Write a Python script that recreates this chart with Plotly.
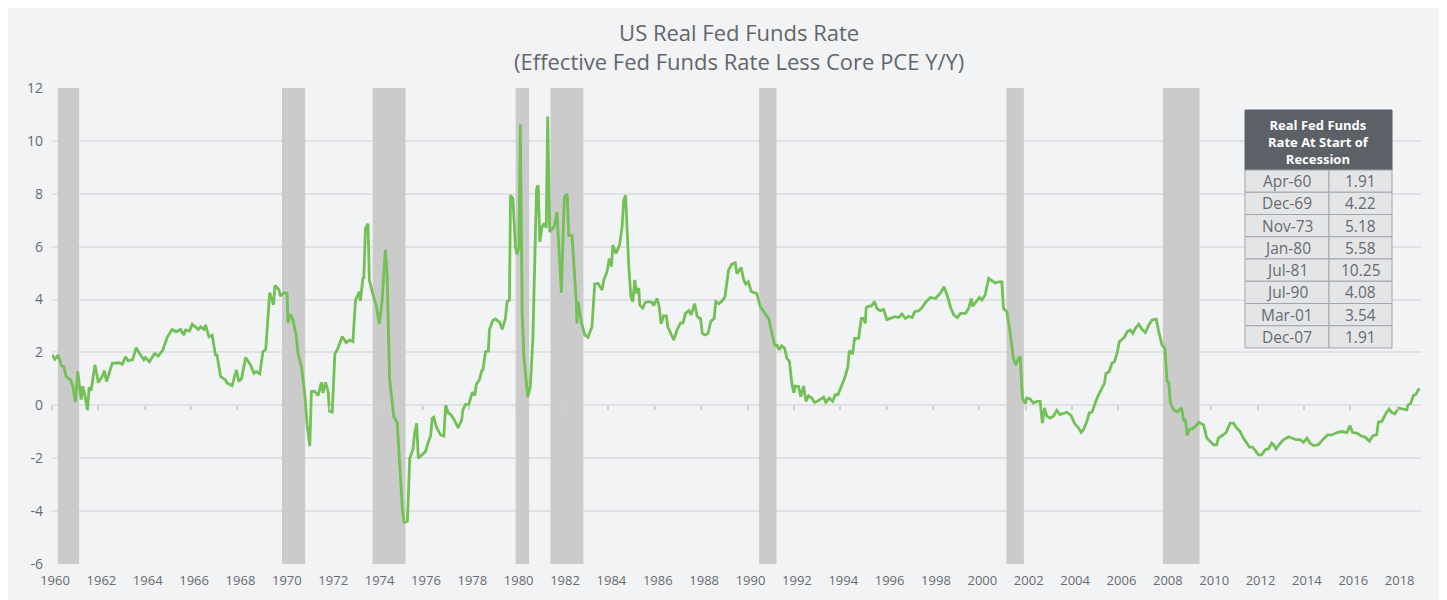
import plotly.graph_objects as go

# ---------------- data ----------------
years = [
    1960.00, 1960.12, 1960.26, 1960.41, 1960.51, 1960.61, 1960.80, 1960.90, 1961.01, 1961.11,
    1961.26, 1961.33, 1961.44, 1961.53, 1961.60, 1961.69, 1961.85, 1962.00, 1962.16, 1962.26,
    1962.35, 1962.60, 1962.88, 1963.03, 1963.17, 1963.28, 1963.48, 1963.63, 1963.82, 1963.96,
    1964.03, 1964.20, 1964.43, 1964.58, 1964.78, 1964.97, 1965.18, 1965.36, 1965.54, 1965.69,
    1965.76, 1965.93, 1966.05, 1966.19, 1966.31, 1966.41, 1966.55, 1966.62, 1966.77, 1966.91,
    1967.05, 1967.12, 1967.27, 1967.48, 1967.56, 1967.77, 1967.95, 1968.06, 1968.18, 1968.35,
    1968.57, 1968.71, 1968.81, 1968.96, 1969.10, 1969.22, 1969.39, 1969.55, 1969.62, 1969.78,
    1969.85, 1970.00, 1970.14, 1970.18, 1970.28, 1970.38, 1970.53, 1970.61, 1970.76, 1970.90,
    1971.01, 1971.12, 1971.19, 1971.33, 1971.48, 1971.62, 1971.69, 1971.80, 1971.91, 1971.97,
    1972.09, 1972.20, 1972.33, 1972.52, 1972.69, 1972.83, 1972.98, 1973.09, 1973.26, 1973.30,
    1973.41, 1973.45, 1973.52, 1973.63, 1973.69, 1973.83, 1973.98, 1974.12, 1974.24, 1974.38,
    1974.45, 1974.56, 1974.64, 1974.74, 1974.89, 1974.99, 1975.11, 1975.18, 1975.33, 1975.43,
    1975.57, 1975.64, 1975.73, 1975.80, 1975.97, 1976.11, 1976.26, 1976.33, 1976.40, 1976.47,
    1976.57, 1976.76, 1976.90, 1976.98, 1977.09, 1977.19, 1977.34, 1977.52, 1977.67, 1977.72,
    1977.84, 1977.98, 1978.13, 1978.24, 1978.30, 1978.44, 1978.53, 1978.59, 1978.70, 1978.82,
    1978.87, 1979.02, 1979.13, 1979.31, 1979.42, 1979.56, 1979.63, 1979.73, 1979.78, 1979.88,
    1979.99, 1980.06, 1980.14, 1980.20, 1980.28, 1980.35, 1980.52, 1980.63, 1980.74, 1980.82,
    1980.90, 1980.97, 1981.04, 1981.14, 1981.22, 1981.32, 1981.38, 1981.47, 1981.57, 1981.67,
    1981.78, 1981.88, 1981.97, 1982.03, 1982.10, 1982.22, 1982.29, 1982.43, 1982.53, 1982.62,
    1982.64, 1982.69, 1982.83, 1982.98, 1983.12, 1983.29, 1983.41, 1983.55, 1983.73, 1983.80,
    1983.94, 1984.04, 1984.13, 1984.19, 1984.33, 1984.48, 1984.59, 1984.66, 1984.74, 1984.81,
    1984.88, 1984.97, 1985.05, 1985.14, 1985.21, 1985.31, 1985.35, 1985.48, 1985.59, 1985.74,
    1985.88, 1985.95, 1986.10, 1986.20, 1986.27, 1986.38, 1986.50, 1986.56, 1986.70, 1986.82,
    1986.96, 1987.11, 1987.22, 1987.32, 1987.47, 1987.57, 1987.72, 1987.83, 1987.98, 1988.05,
    1988.17, 1988.30, 1988.41, 1988.56, 1988.63, 1988.77, 1988.92, 1989.03, 1989.18, 1989.32,
    1989.47, 1989.54, 1989.73, 1989.83, 1989.93, 1990.04, 1990.16, 1990.26, 1990.40, 1990.55,
    1990.69, 1990.84, 1990.91, 1991.05, 1991.17, 1991.27, 1991.37, 1991.48, 1991.60, 1991.70,
    1991.81, 1991.91, 1991.99, 1992.06, 1992.20, 1992.30, 1992.42, 1992.52, 1992.63, 1992.78,
    1992.89, 1993.07, 1993.28, 1993.38, 1993.53, 1993.67, 1993.79, 1993.90, 1994.05, 1994.19,
    1994.33, 1994.39, 1994.53, 1994.62, 1994.79, 1994.91, 1995.01, 1995.08, 1995.12, 1995.22,
    1995.34, 1995.48, 1995.58, 1995.73, 1995.87, 1996.01, 1996.16, 1996.35, 1996.52, 1996.66,
    1996.81, 1996.95, 1997.10, 1997.21, 1997.39, 1997.53, 1997.70, 1997.89, 1998.11, 1998.33,
    1998.47, 1998.61, 1998.76, 1998.90, 1999.05, 1999.19, 1999.41, 1999.54, 1999.65, 1999.71,
    1999.89, 2000.00, 2000.11, 2000.25, 2000.40, 2000.54, 2000.68, 2000.83, 2000.97, 2001.04,
    2001.19, 2001.30, 2001.40, 2001.47, 2001.57, 2001.66, 2001.76, 2001.86, 2001.98, 2002.05,
    2002.19, 2002.33, 2002.48, 2002.62, 2002.72, 2002.81, 2002.91, 2003.05, 2003.20, 2003.34,
    2003.48, 2003.63, 2003.77, 2003.96, 2004.10, 2004.28, 2004.39, 2004.49, 2004.64, 2004.74,
    2004.86, 2005.00, 2005.11, 2005.29, 2005.40, 2005.46, 2005.60, 2005.72, 2005.83, 2005.94,
    2006.04, 2006.15, 2006.27, 2006.37, 2006.51, 2006.62, 2006.73, 2006.88, 2007.02, 2007.16,
    2007.31, 2007.45, 2007.63, 2007.74, 2007.88, 2008.00, 2008.10, 2008.17, 2008.24, 2008.38,
    2008.53, 2008.72, 2008.82, 2008.89, 2008.96, 2009.06, 2009.18, 2009.32, 2009.47, 2009.67,
    2009.81, 2009.95, 2010.10, 2010.24, 2010.31, 2010.46, 2010.64, 2010.82, 2010.96, 2011.10,
    2011.25, 2011.39, 2011.53, 2011.65, 2011.79, 2011.89, 2012.04, 2012.18, 2012.33, 2012.47,
    2012.61, 2012.69, 2012.80, 2012.90, 2013.09, 2013.34, 2013.48, 2013.67, 2013.84, 2013.98,
    2014.13, 2014.27, 2014.41, 2014.63, 2014.84, 2015.02, 2015.20, 2015.42, 2015.63, 2015.85,
    2015.99, 2016.10, 2016.28, 2016.45, 2016.64, 2016.82, 2016.97, 2017.14, 2017.21, 2017.36,
    2017.54, 2017.67, 2017.79, 2017.93, 2018.07, 2018.29, 2018.43, 2018.50, 2018.60, 2018.72,
    2018.83, 2018.93, 2019.00,
]
real_rate = [
    1.91, 1.74, 1.90, 1.49, 1.46, 1.09, 0.96, 0.71, 0.12, 1.28,
    0.22, 0.72, 0.28, -0.18, 0.68, 0.56, 1.53, 0.86, 1.09, 1.31,
    0.90, 1.59, 1.61, 1.55, 1.84, 1.69, 1.72, 2.18, 1.90, 1.72,
    1.81, 1.65, 1.96, 1.86, 2.09, 2.57, 2.87, 2.78, 2.87, 2.66,
    2.85, 2.81, 3.07, 2.95, 2.87, 2.97, 2.87, 3.04, 2.59, 2.65,
    1.90, 1.90, 1.09, 0.96, 0.84, 0.74, 1.34, 0.90, 1.02, 1.81,
    1.52, 1.21, 1.28, 1.19, 2.03, 2.12, 4.26, 3.80, 4.53, 4.38,
    4.13, 4.26, 4.23, 3.12, 3.45, 3.28, 2.66, 1.96, 1.46, 0.45,
    -0.78, -1.54, 0.53, 0.53, 0.37, 0.87, 0.47, 0.87, 0.53, -0.22,
    -0.25, 1.94, 2.15, 2.60, 2.37, 2.47, 2.41, 3.98, 4.30, 3.95,
    4.80, 4.82, 6.69, 6.87, 4.73, 4.23, 3.79, 3.07, 3.98, 5.89,
    5.11, 1.02, 0.45, -0.42, -0.65, -2.30, -3.89, -4.42, -4.38, -2.00,
    -1.67, -1.05, -0.68, -2.00, -1.87, -1.75, -1.31, -1.16, -0.49, -0.45,
    -0.80, -1.12, -1.16, 0.00, -0.28, -0.34, -0.53, -0.85, -0.56, -0.18,
    0.04, 0.04, 0.50, 0.38, 0.79, 0.98, 1.30, 1.36, 2.03, 2.05,
    2.87, 3.22, 3.27, 3.14, 2.87, 3.30, 3.92, 3.98, 7.94, 7.81,
    5.99, 5.71, 5.99, 10.62, 3.50, 1.90, 0.31, 0.71, 2.47, 5.24,
    8.19, 8.32, 6.18, 6.75, 6.88, 6.72, 10.92, 6.56, 6.69, 6.77,
    7.31, 5.62, 4.26, 5.99, 7.88, 8.00, 6.43, 6.43, 5.24, 3.85,
    3.10, 3.92, 3.16, 2.66, 2.57, 2.97, 4.58, 4.61, 4.36, 4.74,
    5.05, 5.55, 5.24, 6.06, 5.74, 6.06, 6.75, 7.75, 7.94, 6.24,
    5.24, 4.11, 3.92, 4.74, 4.24, 4.43, 3.80, 3.68, 3.89, 3.92,
    3.89, 3.77, 4.05, 3.68, 3.08, 3.38, 3.38, 2.97, 2.66, 2.47,
    2.85, 3.12, 3.12, 3.48, 3.58, 3.42, 3.84, 3.36, 3.26, 2.72,
    2.66, 2.72, 3.16, 3.29, 3.92, 3.84, 3.96, 4.11, 5.11, 5.34,
    5.39, 4.98, 5.21, 4.76, 4.58, 4.67, 4.30, 4.26, 4.23, 3.73,
    3.54, 3.35, 3.29, 2.72, 2.28, 2.28, 2.10, 2.25, 2.16, 1.78,
    1.66, 0.84, 0.48, 0.73, 0.71, 0.33, 0.73, 0.15, 0.36, 0.27,
    0.11, 0.18, 0.31, 0.11, 0.27, 0.15, 0.40, 0.40, 0.71, 1.03,
    1.46, 2.07, 1.94, 2.53, 2.53, 3.29, 3.29, 3.10, 3.70, 3.75,
    3.75, 3.92, 3.66, 3.58, 3.63, 3.24, 3.29, 3.35, 3.32, 3.45,
    3.29, 3.37, 3.32, 3.54, 3.58, 3.70, 3.92, 4.08, 4.04, 4.26,
    4.48, 4.17, 3.70, 3.41, 3.32, 3.48, 3.48, 3.67, 4.04, 3.75,
    3.95, 4.08, 3.98, 4.17, 4.80, 4.73, 4.63, 4.67, 4.67, 3.67,
    3.54, 2.91, 2.35, 1.78, 1.53, 1.72, 1.84, 0.28, 0.06, 0.28,
    0.24, 0.09, 0.15, 0.15, -0.67, -0.10, -0.41, -0.48, -0.41, -0.19,
    -0.35, -0.29, -0.26, -0.39, -0.67, -0.86, -1.02, -0.92, -0.60, -0.29,
    -0.26, 0.09, 0.34, 0.65, 0.84, 1.20, 1.28, 1.59, 1.65, 1.97,
    2.41, 2.49, 2.59, 2.78, 2.85, 2.72, 2.91, 3.07, 2.87, 2.75,
    3.04, 3.23, 3.26, 2.78, 2.28, 2.16, 0.90, 0.86, 0.09, -0.16,
    -0.25, -0.10, -0.60, -0.54, -1.14, -0.92, -0.89, -0.79, -0.64, -0.74,
    -1.24, -1.36, -1.49, -1.49, -1.24, -1.15, -1.03, -0.67, -0.67, -0.86,
    -0.99, -1.24, -1.43, -1.58, -1.58, -1.71, -1.87, -1.87, -1.68, -1.65,
    -1.43, -1.49, -1.65, -1.52, -1.32, -1.19, -1.24, -1.30, -1.30, -1.40,
    -1.24, -1.43, -1.52, -1.49, -1.27, -1.12, -1.12, -1.03, -0.99, -1.03,
    -0.77, -1.03, -1.05, -1.15, -1.20, -1.36, -1.15, -1.12, -0.64, -0.61,
    -0.30, -0.14, -0.27, -0.32, -0.10, -0.14, -0.17, 0.03, 0.06, 0.37,
    0.41, 0.58, 0.63,
]

# NBER recessions (decimal years)
recession_start = [1960.25, 1969.92, 1973.83, 1980.00, 1981.50, 1990.50, 2001.17, 2007.92]
recession_end   = [1961.17, 1970.92, 1975.25, 1980.58, 1982.92, 1991.25, 2001.92, 2009.50]

# table
table_title = ["Real Fed Funds", "Rate At Start of", "Recession"]
table_dates = ["Apr-60", "Dec-69", "Nov-73", "Jan-80", "Jul-81", "Jul-90", "Mar-01", "Dec-07"]
table_values = ["1.91", "4.22", "5.18", "5.58", "10.25", "4.08", "3.54", "1.91"]

chart_title = ["US Real Fed Funds Rate", "(Effective Fed Funds Rate Less Core PCE Y/Y)"]

x_ticks = list(range(1960, 2019, 2))
y_ticks = list(range(-6, 13, 2))
y_tick_labels = [str(v) for v in y_ticks]   # plain hyphen minus, as in the original

# ---------------- layout constants ----------------
OFF = 8                      # page body margin of the html page
W, H = 1447 - OFF, 600 - OFF
ML, MR, MT, MB = 52 - OFF, 26, 88 - OFF, 36
PW = W - ML - MR
PH = H - MT - MB
FONT = "Open Sans"
BG = "#f2f3f5"
TXT = "#676b71"


def px_x(px):
    """screen x (window pixel) -> paper fraction"""
    return (px - OFF - ML) / PW


def px_y(py):
    """screen y (window pixel) -> paper fraction"""
    return (H - MB - (py - OFF)) / PH


Y_MIN, Y_MAX = -6, 12
X_MIN, X_MAX = 1960, 2019.05

fig = go.Figure()
fig.add_trace(go.Scatter(
    x=years, y=real_rate, mode="lines",
    line=dict(color="#72c056", width=2.8),
    hoverinfo="x+y", showlegend=False,
))
# helper trace so the zero-line tick axis is drawn
fig.add_trace(go.Scatter(x=[X_MIN], y=[None], xaxis="x2", mode="lines",
                         showlegend=False, hoverinfo="skip"))

shapes = []
for s, e in zip(recession_start, recession_end):
    shapes.append(dict(type="rect", xref="x", yref="y", x0=s, x1=e,
                       y0=Y_MIN, y1=Y_MAX, fillcolor="#cbcbcb",
                       line=dict(width=0), layer="between"))
# zero line
shapes.append(dict(type="line", xref="paper", yref="y", x0=0, x1=1, y0=0, y1=0,
                   line=dict(color="#7b8086", width=1.5), layer="between"))

# ---------------- table ----------------
TX0, TX1, TXS = 1245, 1392, 1329
TY0, THB = 110, 170
ROW_H = 22.25
annotations = []
shapes.append(dict(type="rect", xref="paper", yref="paper",
                   x0=px_x(TX0), x1=px_x(TX1), y0=px_y(THB), y1=px_y(TY0),
                   fillcolor="#5c6168", line=dict(color="#5c6168", width=1)))
annotations.append(dict(xref="paper", yref="paper", x=px_x((TX0 + TX1) / 2),
                        y=px_y((TY0 + THB) / 2 + 2),
                        text="<br>".join(f"<b>{t}</b>" for t in table_title),
                        showarrow=False, xanchor="center", yanchor="middle",
                        align="center",
                        font=dict(family=FONT, size=13, color="white")))
for i, (d, v) in enumerate(zip(table_dates, table_values)):
    r0 = THB + i * ROW_H
    r1 = r0 + ROW_H
    for cx0, cx1, txt in ((TX0, TXS, d), (TXS, TX1, v)):
        shapes.append(dict(type="rect", xref="paper", yref="paper",
                           x0=px_x(cx0), x1=px_x(cx1), y0=px_y(r1), y1=px_y(r0),
                           fillcolor="#e4e5e7", line=dict(color="#a3a6aa", width=1)))
        annotations.append(dict(xref="paper", yref="paper", x=px_x((cx0 + cx1) / 2),
                                y=px_y((r0 + r1) / 2), text=txt, showarrow=False,
                                xanchor="center", yanchor="middle",
                                font=dict(family=FONT, size=15.5, color=TXT)))

# ---------------- title ----------------
TITLE_CX = 739
annotations.append(dict(xref="paper", yref="paper", x=px_x(TITLE_CX), y=px_y(46),
                        text="<br>".join(chart_title), showarrow=False,
                        xanchor="center", yanchor="middle", align="center",
                        font=dict(family=FONT, size=22, color="#62666c")))

zero_pos = (0 - Y_MIN) / (Y_MAX - Y_MIN)

fig.update_layout(
    width=W, height=H,
    margin=dict(l=ML, r=MR, t=MT, b=MB, pad=0),
    paper_bgcolor=BG, plot_bgcolor=BG,
    font=dict(family=FONT, color=TXT),
    shapes=shapes, annotations=annotations,
    showlegend=False,
    xaxis=dict(range=[X_MIN, X_MAX], tickvals=x_ticks, ticktext=[str(t) for t in x_ticks],
               showgrid=False, zeroline=False, showline=False, ticks="",
               ticklabelstandoff=7, ticklabelshift=3,
               tickfont=dict(family=FONT, size=13, color=TXT)),
    xaxis2=dict(range=[X_MIN, X_MAX], overlaying="x", anchor="free", position=zero_pos,
                tickvals=x_ticks, showticklabels=False, ticks="outside", ticklen=4,
                tickwidth=1.5, tickcolor="#cfd1d4", showgrid=False, zeroline=False,
                showline=False),
    yaxis=dict(range=[Y_MIN, Y_MAX], tickvals=y_ticks, ticktext=y_tick_labels,
               showgrid=True, gridcolor="#dfe1e4", gridwidth=2, zeroline=False,
               showline=False, ticks="", ticklabelstandoff=8,
               tickfont=dict(family=FONT, size=14, color=TXT)),
)

fig.write_html("out.html")
